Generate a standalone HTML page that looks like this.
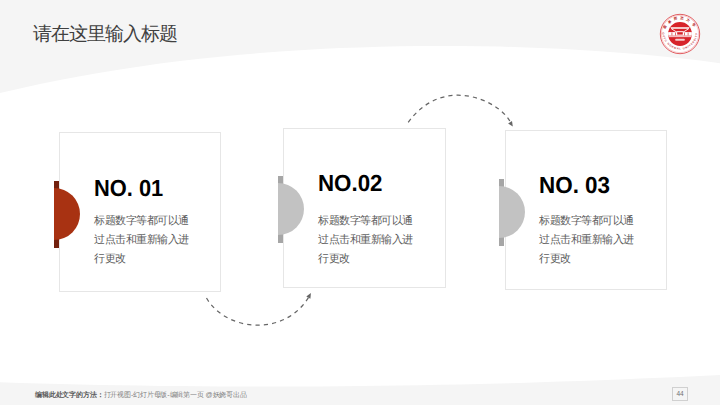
<!DOCTYPE html>
<html><head><meta charset="utf-8">
<style>
html,body{margin:0;padding:0;}
body{width:720px;height:405px;position:relative;overflow:hidden;background:#fff;font-family:"Liberation Sans",sans-serif;}
.abs{position:absolute;}
#bg{position:absolute;left:0;top:0;}
.title{position:absolute;left:33px;top:22px;font-size:19px;letter-spacing:-1px;color:#404040;white-space:nowrap;line-height:24px;}
.card{position:absolute;width:161px;height:159px;border:1px solid #e6e6e6;background:#fff;box-sizing:border-box;}
.bar{position:absolute;width:5px;height:67px;}
.semi{position:absolute;width:26px;height:52px;border-radius:0 26px 26px 0;}
.no{position:absolute;font-weight:bold;font-size:23.25px;color:#000;white-space:nowrap;line-height:26px;text-rendering:geometricPrecision;transform-origin:0 0;}
.body{position:absolute;font-size:11px;letter-spacing:-0.5px;color:#5c5c5c;line-height:19px;white-space:nowrap;}
.foot{position:absolute;left:35px;top:390px;font-size:7px;letter-spacing:-0.15px;color:#7f7f7f;white-space:nowrap;line-height:10px;}
.foot b{color:#595959;}
.pn{position:absolute;left:672px;top:387px;width:16px;height:14px;border:1px solid #d0d0d0;box-sizing:border-box;font-size:6.5px;color:#707070;text-align:center;line-height:12px;}
</style></head><body>
<svg id="bg" width="720" height="405" viewBox="0 0 720 405">
<path fill="#f5f5f5" d="M0,0 L720,0 L720,63.2 L700,60.6 680,58.3 660,56.2 640,54.3 620,52.7 600,51.2 580,49.9 560,48.8 540,47.9 520,47.2 500,46.6 480,46.2 460,46.0 440,45.9 420,46.0 400,46.3 380,46.8 360,47.4 340,48.1 320,49.1 300,50.2 280,51.5 260,53.1 240,54.8 220,56.7 200,58.8 180,61.1 160,63.6 140,66.4 120,69.4 100,72.7 80,76.2 60,80.0 40,84.1 20,88.4 0,93.1 Z"/>
<path fill="#f5f5f5" d="M0,405 L0,382.3 20,383.0 40,383.5 60,384.1 80,384.5 100,384.9 120,385.3 140,385.6 160,385.9 180,386.1 200,386.3 220,386.5 240,386.5 260,386.6 280,386.6 300,386.5 320,386.4 340,386.3 360,386.1 380,385.8 400,385.5 420,385.2 440,384.8 460,384.4 480,383.9 500,383.4 520,382.9 540,382.3 560,381.6 580,380.9 600,380.2 620,379.4 640,378.6 660,377.8 680,376.9 700,375.9 720,374.9 L720,405 Z"/>
<!-- dashed arcs -->
<path d="M408.2,122.4 C443.4,74.2 498.5,100.7 509.8,121" fill="none" stroke="#666" stroke-width="1.25" stroke-dasharray="4.2,4.01"/>
<path d="M512.8,126.6 L508.1,123.5 L512,120.9 Z" fill="#666"/>
<path d="M206.5,298 C225.4,330.9 283.4,337.7 308.4,297.6" fill="none" stroke="#666" stroke-width="1.25" stroke-dasharray="4.2,4.14"/>
<path d="M310.9,293 L310.4,298.7 L306.3,296.4 Z" fill="#666"/>
<!-- logo -->
<g transform="translate(680,34)">
<defs>
<path id="ringT" d="M-15.0,0 A15.0,15.0 0 0 1 15.0,0"/>
<clipPath id="disk"><circle r="11.9"/></clipPath>
<path id="ringB" d="M-17.6,-2 A17.6,17.6 0 0 0 17.6,-2"/>
</defs>
<circle r="19.7" fill="#fff" stroke="#d9363b" stroke-width="0.8"/>
<circle r="18.6" fill="none" stroke="#e56b6f" stroke-width="0.35"/>
<text font-size="3.5" font-weight="bold" fill="#b51f26" letter-spacing="2.3"><textPath href="#ringT" startOffset="50%" text-anchor="middle">曲阜师范大学</textPath></text>
<text font-size="2.7" font-weight="bold" fill="#c23a3f" letter-spacing="0.75"><textPath href="#ringB" startOffset="50%" text-anchor="middle">QUFU NORMAL UNIVERSITY</textPath></text>
<circle r="11.9" fill="#d7242b"/>
<g clip-path="url(#disk)">
<path d="M-9.8,-6.8 L9.8,-6.8 L8.6,-5.2 L-8.6,-5.2 Z" fill="#fff"/>
<path d="M-8.8,-5.4 L-3.8,-2.2 M8.8,-5.4 L3.8,-2.2 M-3.8,-2.4 L3.8,-2.4" stroke="#fff" stroke-width="0.9" fill="none"/>
<rect x="-12" y="-1.9" width="24" height="3.6" fill="#fff"/>
<rect x="-8.6" y="-1.5" width="1" height="3" fill="#e06a6e"/>
<rect x="-5" y="-1.5" width="1" height="3" fill="#e06a6e"/>
<rect x="4" y="-1.5" width="1" height="3" fill="#e06a6e"/>
<rect x="7.6" y="-1.5" width="1" height="3" fill="#e06a6e"/>
<rect x="-2.8" y="-1.8" width="5.6" height="2.4" fill="#d7242b"/>
<rect x="-11.5" y="2.3" width="23" height="0.8" fill="#fff"/>
<rect x="-4.6" y="4.8" width="9.2" height="2" rx="0.4" fill="#f6cfd0"/>
</g>
</g>
</svg>
<div class="title">请在这里输入标题</div>

<div class="card" style="left:59px;top:132px;width:162px;height:160px;"></div>
<div class="bar" style="left:54px;top:181px;background:#72200d;"></div>
<div class="semi" style="left:54px;top:188px;background:#a83212;"></div>
<div class="no" style="left:94px;top:175px;transform:scaleX(0.94);">NO. 01</div>
<div class="body" style="left:94px;top:211px;">标题数字等都可以通<br>过点击和重新输入进<br>行更改</div>

<div class="card" style="left:283px;top:128px;width:163px;height:160px;"></div>
<div class="bar" style="left:278px;top:176px;background:#a6a6a6;"></div>
<div class="semi" style="left:278px;top:183px;background:#c2c2c2;"></div>
<div class="no" style="left:318px;top:170px;transform:scaleX(0.96);">NO.02</div>
<div class="body" style="left:318px;top:211px;">标题数字等都可以通<br>过点击和重新输入进<br>行更改</div>

<div class="card" style="left:505px;top:130px;width:162px;height:160px;"></div>
<div class="bar" style="left:499px;top:179px;background:#a6a6a6;"></div>
<div class="semi" style="left:499px;top:186px;background:#c2c2c2;"></div>
<div class="no" style="left:539px;top:172px;transform:scaleX(0.965);">NO. 03</div>
<div class="body" style="left:539px;top:211px;">标题数字等都可以通<br>过点击和重新输入进<br>行更改</div>

<div class="foot"><b>编辑此处文字的方法：</b>打开视图-幻灯片母版-编辑第一页 @妖娆哥出品</div>
<div class="pn">44</div>
</body></html>
